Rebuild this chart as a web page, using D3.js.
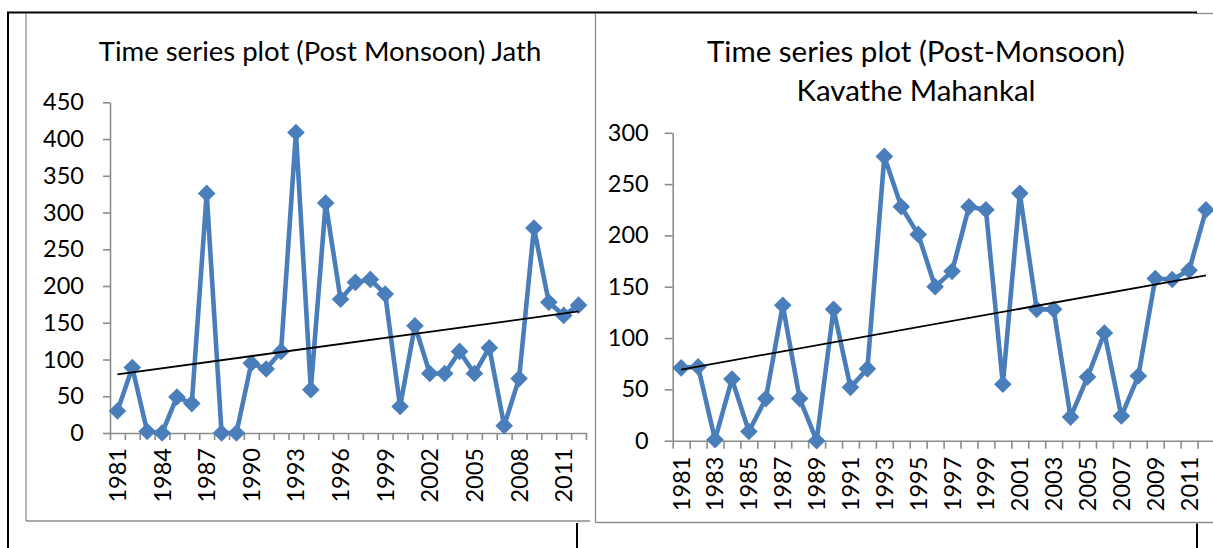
<!DOCTYPE html>
<html>
<head>
<meta charset="utf-8">
<script src="https://cdn.jsdelivr.net/npm/d3@7"></script>
<style>
  html, body { margin: 0; padding: 0; background: #fff; }
  svg { display: block; }
  text { font-family: Lato, "Open Sans", sans-serif; fill: #000; }
</style>
</head>
<body>
<svg id="chart" width="1213" height="548"></svg>
<script>
// ---------- data ----------
const years = d3.range(1981, 2013).map(String);

const jathValues = [30, 89, 2, 0, 49, 40, 326, 0, 0, 95, 87, 111, 409, 59, 313, 182,
                    205, 209, 189, 36, 146, 81, 81, 111, 81, 116, 10, 74, 279, 178, 160, 174];

const kavatheValues = [71, 72, 1, 60, 9, 41, 132, 41, 0, 128, 52, 70, 277, 228, 201, 150,
                       165, 228, 225, 55, 241, 128, 128, 23, 62, 105, 24, 63, 158, 157, 166, 225];

const jathTicks = [0, 50, 100, 150, 200, 250, 300, 350, 400, 450];
const kavatheTicks = [0, 50, 100, 150, 200, 250, 300];

const jathYearLabels = ["1981", "1984", "1987", "1990", "1993", "1996", "1999", "2002", "2005", "2008", "2011"];
const kavatheYearLabels = ["1981", "1983", "1985", "1987", "1989", "1991", "1993", "1995", "1997", "1999",
                           "2001", "2003", "2005", "2007", "2009", "2011"];

const jathTitle = ["Time series plot (Post Monsoon) Jath"];
const kavatheTitle = ["Time series plot (Post-Monsoon)", "Kavathe Mahankal"];

// ---------- style ----------
const BLUE = "#4a7ebb";
const GRAY = "#8c8c8c";
const svg = d3.select("#chart");

function frameLines() {
  const g = svg.append("g");
  const gl = (x1, y1, x2, y2, c, w) => g.append("line")
    .attr("x1", x1).attr("y1", y1).attr("x2", x2).attr("y2", y2)
    .attr("stroke", c).attr("stroke-width", w);
  // chart area borders (gray)
  gl(26, 14, 26, 521, GRAY, 1.3);
  gl(26, 521, 590, 521, GRAY, 1.3);
  gl(595.5, 14, 595.5, 522.5, GRAY, 1.3);
  gl(595.5, 522.5, 1213, 522.5, GRAY, 1.3);
  gl(1196, 13.5, 1213, 13.5, GRAY, 1.3);
  // outer black table lines
  gl(8, 12, 8, 548, "#000", 2);
  gl(7, 12.5, 1197, 12.5, "#000", 2);
  gl(577, 523, 577, 548, "#000", 2);
  gl(1197, 523.5, 1197, 548, "#000", 2);
}

function drawChart(opt) {
  const g = svg.append("g");
  const x = d3.scaleBand().domain(years).range([opt.x0, opt.x1]).padding(0);
  const xi = d3.scaleLinear().domain([0, years.length]).range([opt.x0, opt.x1]);
  const y = d3.scaleLinear().domain([0, opt.yMax]).range([opt.yBottom, opt.yTop]);
  const cx = d => x(d) + x.bandwidth() / 2;

  // y axis
  const ya = g.append("g").attr("transform", `translate(${opt.x0},0)`)
    .call(d3.axisLeft(y).tickValues(opt.ticks).tickSize(opt.tickLen).tickSizeOuter(0).tickPadding(opt.yPad));
  ya.select(".domain").attr("stroke", GRAY).attr("stroke-width", 1.6);
  ya.selectAll(".tick line").attr("stroke", GRAY).attr("stroke-width", 1.6);
  ya.selectAll(".tick text").attr("font-size", opt.fs).attr("font-family", "Lato, sans-serif").attr("fill", "#000");

  // x axis (ticks between categories)
  const xa = g.append("g").attr("transform", `translate(0,${opt.yBottom})`)
    .call(d3.axisBottom(xi).tickValues(d3.range(0, years.length + 1)).tickSize(opt.tickLen).tickSizeOuter(0).tickFormat(""));
  xa.select(".domain").attr("stroke", GRAY).attr("stroke-width", 1.6);
  xa.selectAll(".tick line").attr("stroke", GRAY).attr("stroke-width", 1.6);

  g.selectAll("text.yr").data(opt.yearLabels).join("text").attr("class", "yr")
    .attr("transform", d => `translate(${cx(d)},${opt.yBottom + opt.xPad}) rotate(-90)`)
    .attr("text-anchor", "end").attr("dy", "0.36em")
    .attr("font-size", opt.fs).text(d => d);

  // series line
  const pts = years.map((yr, i) => ({ yr, v: opt.values[i] }));
  g.append("path").datum(pts)
    .attr("fill", "none").attr("stroke", BLUE).attr("stroke-width", 4.6)
    .attr("stroke-linejoin", "round").attr("stroke-linecap", "round")
    .attr("d", d3.line().x(d => cx(d.yr)).y(d => y(d.v)));

  // markers (diamonds)
  g.selectAll("path.mk").data(pts).join("path").attr("class", "mk")
    .attr("d", d3.symbol(d3.symbolSquare, 155))
    .attr("fill", BLUE)
    .attr("transform", d => `translate(${cx(d.yr)},${y(d.v)}) rotate(45)`);

  // linear trend line (least squares)
  const n = opt.values.length;
  const xs = d3.range(n);
  const mx = d3.mean(xs), my = d3.mean(opt.values);
  const slope = d3.sum(xs, i => (i - mx) * (opt.values[i] - my)) / d3.sum(xs, i => (i - mx) ** 2);
  const icpt = my - slope * mx;
  g.append("line")
    .attr("x1", cx(years[0])).attr("y1", y(icpt))
    .attr("x2", cx(years[n - 1])).attr("y2", y(icpt + slope * (n - 1)))
    .attr("stroke", "#000").attr("stroke-width", 1.8);

  // title
  opt.title.forEach((t, i) => {
    g.append("text").attr("x", opt.titleX).attr("y", opt.titleY + i * opt.titleLH)
      .attr("text-anchor", "middle").attr("font-size", opt.titleFs).text(t);
  });
}

frameLines();

drawChart({
  values: jathValues, ticks: jathTicks, yearLabels: jathYearLabels, title: jathTitle,
  x0: 110, x1: 586, yTop: 102.3, yBottom: 433, yMax: 450,
  tickLen: 7, yPad: 19, xPad: 15, fs: 23.5,
  titleX: 320, titleY: 61, titleLH: 39, titleFs: 27.5
});

drawChart({
  values: kavatheValues, ticks: kavatheTicks, yearLabels: kavatheYearLabels, title: kavatheTitle,
  x0: 672.7, x1: 1214.5, yTop: 132.8, yBottom: 440.7, yMax: 300,
  tickLen: 8, yPad: 16, xPad: 16, fs: 23.5,
  titleX: 916, titleY: 62, titleLH: 38.5, titleFs: 29.5
});
</script>
</body>
</html>
